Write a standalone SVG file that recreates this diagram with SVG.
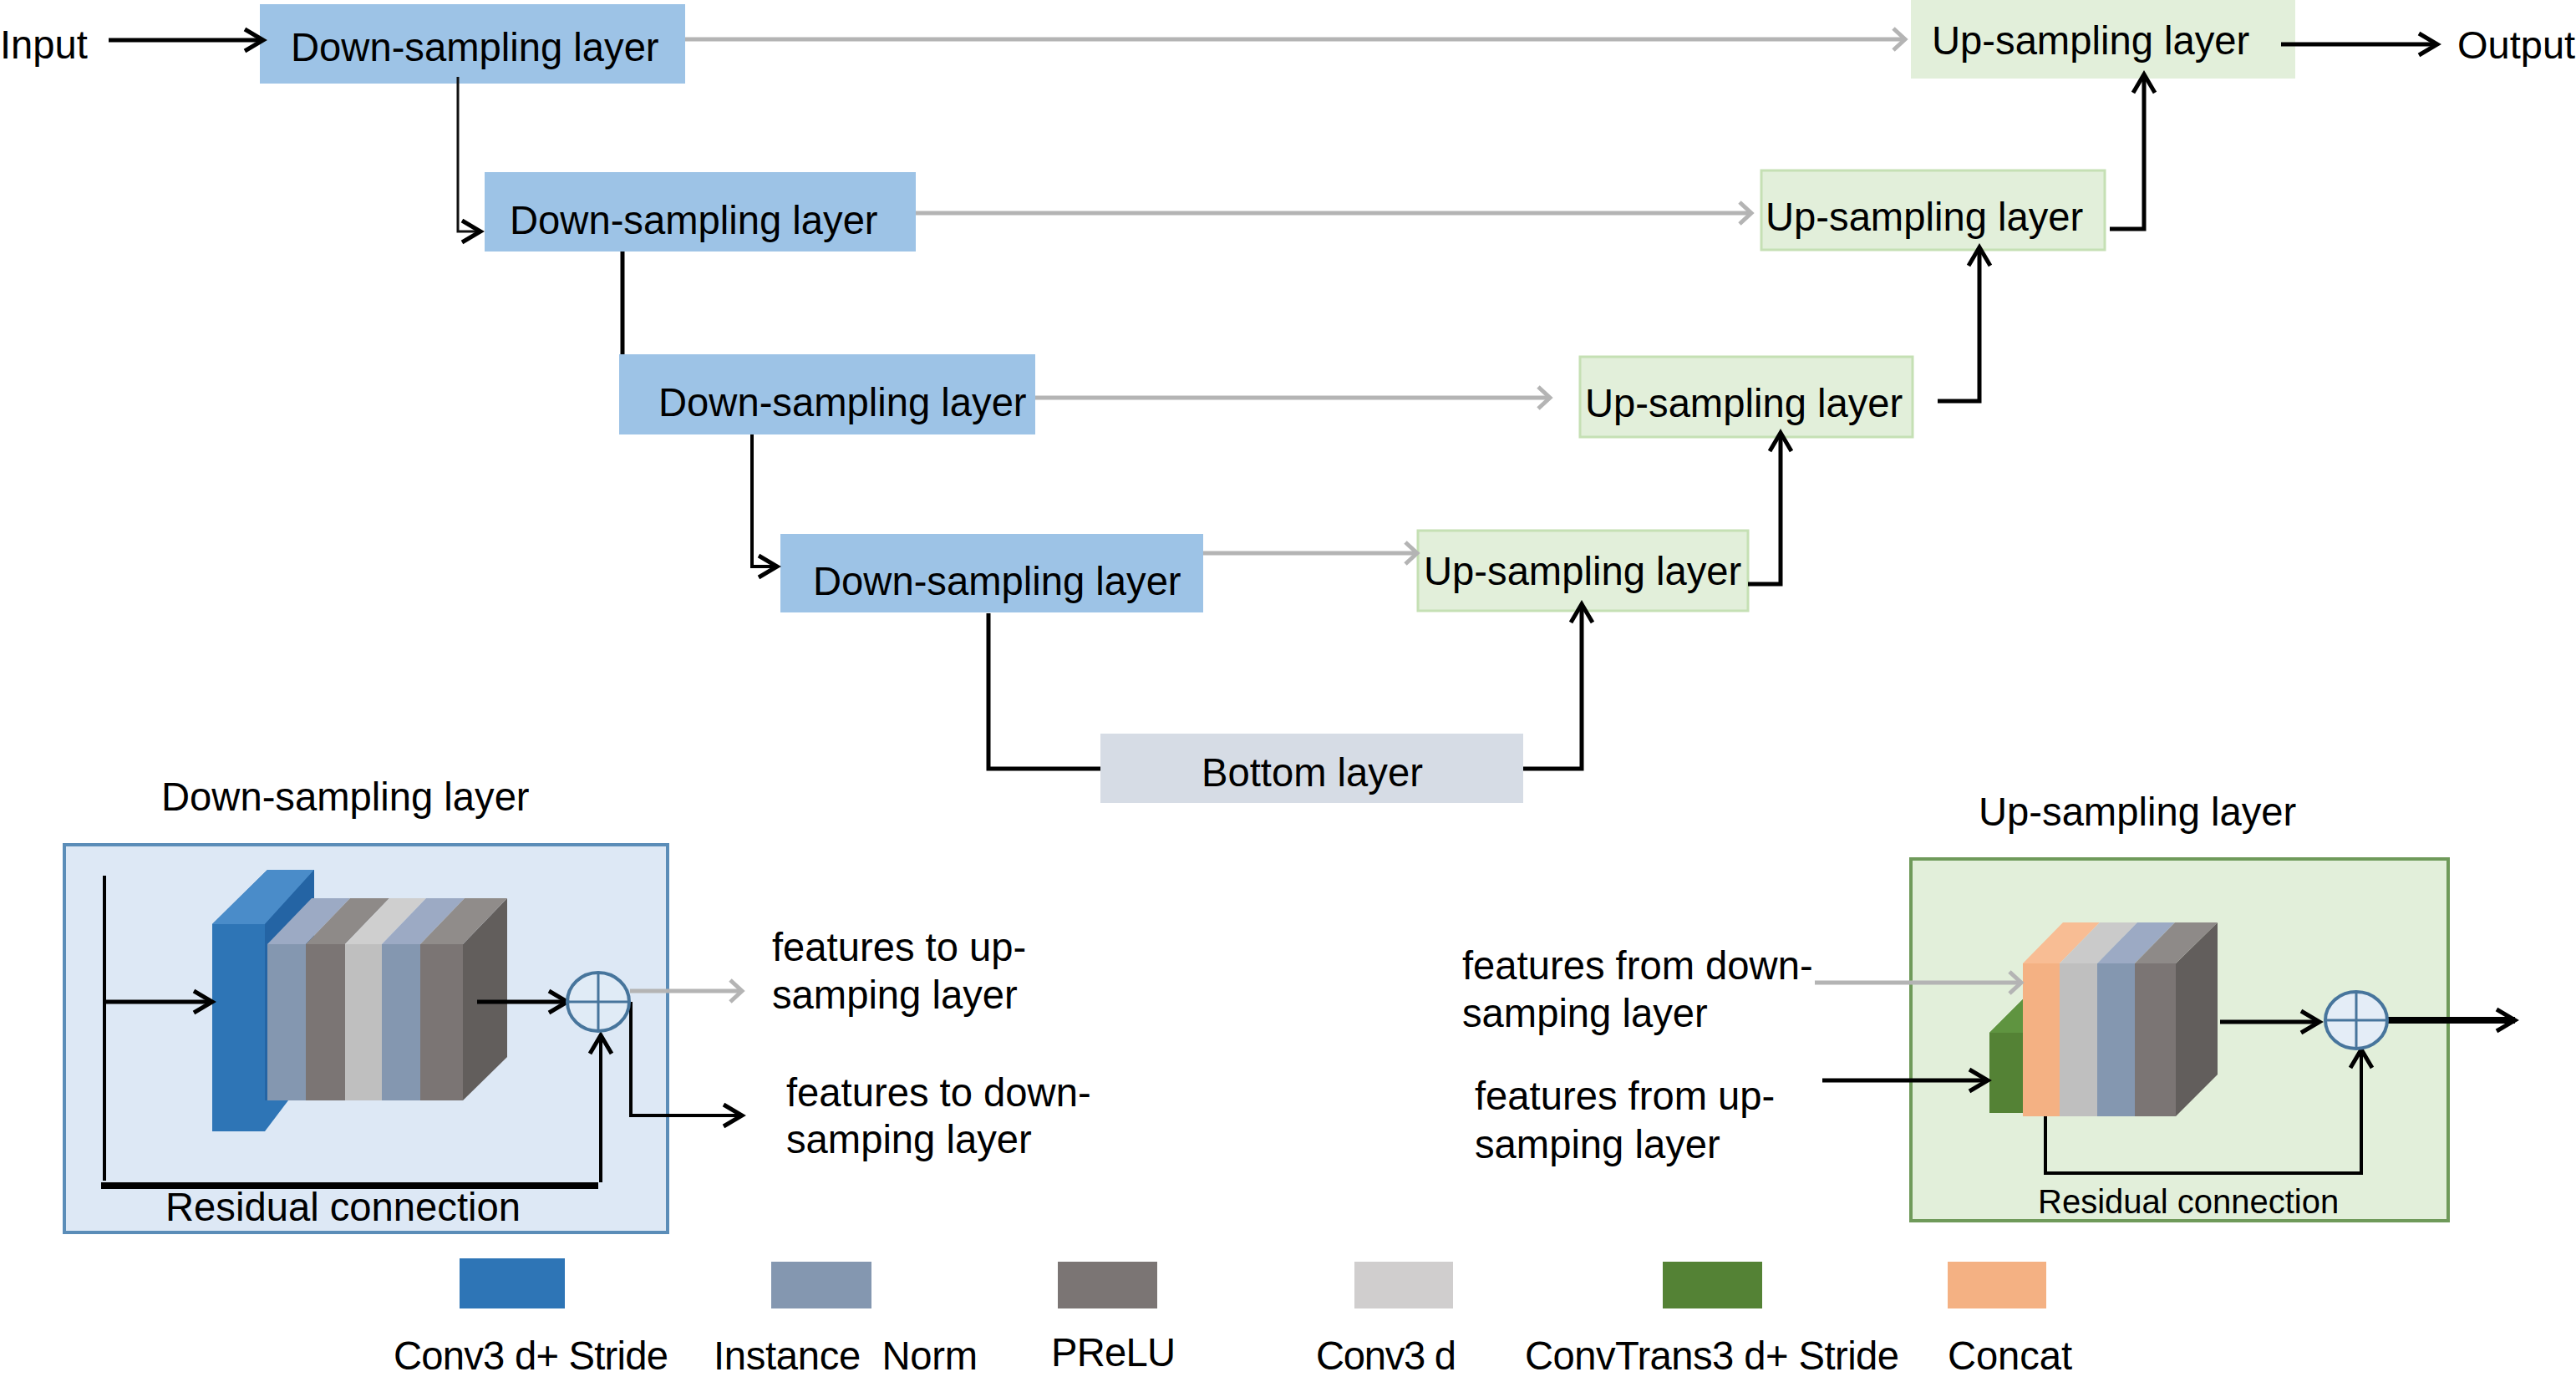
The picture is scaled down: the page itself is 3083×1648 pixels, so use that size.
<svg xmlns="http://www.w3.org/2000/svg" width="3083" height="1648" viewBox="0 0 3083 1648">
<style>
text{font-family:"Liberation Sans",Arial,sans-serif;font-size:47.2px;fill:#000}
.down{fill:#9dc3e6}.up{fill:#e2efda}.upb{fill:#e2efda;stroke:#c5e0b4;stroke-width:3}.bot{fill:#d6dce5}
.k,.k5,.g,.k7,.k8,.k3{fill:none}
.k{stroke:#000;stroke-width:4}.k3{stroke:#111;stroke-width:3}.k5{stroke:#000;stroke-width:5}.k7{stroke:#000;stroke-width:8}.k8{stroke:#000;stroke-width:8}
.g{stroke:#b4b4b4;stroke-width:5}
.ka{marker-end:url(#ah)}.ga{marker-end:url(#ag)}
.b1{fill:#8497b0}.b2{fill:#7b7574}.b3{fill:#bfbfbf}.s{fill:#625e5c}
</style>
<defs>
<marker id="ah" markerUnits="userSpaceOnUse" markerWidth="40" markerHeight="40" refX="26" refY="20" orient="auto"><path d="M4 7L26 20L4 33" fill="none" stroke="#000" stroke-width="5"/></marker>
<marker id="ag" markerUnits="userSpaceOnUse" markerWidth="40" markerHeight="40" refX="26" refY="20" orient="auto"><path d="M12 7L26 20L12 33" fill="none" stroke="#b4b4b4" stroke-width="5"/></marker>
</defs>

<g id="panel-down">
<rect x="77" y="1011" width="722" height="464" fill="#dde8f5" stroke="#5b8db8" stroke-width="4"/>
<path d="M254 1106L320 1041H376V1275L345 1317L317 1354H254Z" fill="#2e75b6"/>
<path d="M254 1106L320 1041H376L317 1106Z" fill="#4a8cc9"/>
<path d="M317 1106L376 1041V1275L345 1317H317Z" fill="#2464a4"/>
<path d="M254 1106H317V1354H254Z" fill="#2e75b6"/>
<path class="s" d="M554 1130L607 1075V1265L554 1317Z"/>
<path class="b1" d="M320 1130H366V1317H320Z"/><path class="b2" d="M366 1130H413V1317H366Z"/><path class="b3" d="M413 1130H457V1317H413Z"/><path class="b1" d="M457 1130H503V1317H457Z"/><path class="b2" d="M503 1130H554V1317H503Z"/>
<path d="M320 1130L373 1075H419L366 1130Z" fill="#9caac4"/><path d="M366 1130L419 1075H466L413 1130Z" fill="#8e8a88"/><path d="M413 1130L466 1075H510L457 1130Z" fill="#cfcfcf"/><path d="M457 1130L510 1075H556L503 1130Z" fill="#9caac4"/><path d="M503 1130L556 1075H607L554 1130Z" fill="#908c8a"/>
<text x="198" y="1461">Residual connection</text>
</g>
<g id="panel-up">
<rect x="2287" y="1028" width="643" height="433" fill="#e2efda" stroke="#6f9a5a" stroke-width="4"/>
<path d="M2381 1236L2421 1196V1332H2381Z" fill="#548235"/>
<path d="M2381 1236L2421 1196V1236Z" fill="#5f9440"/>
<path class="s" d="M2604 1153L2654 1104V1286L2604 1336Z"/>
<rect x="2421" y="1153" width="44" height="183" fill="#f4b183"/><rect class="b3" x="2465" y="1153" width="45" height="183"/><rect class="b1" x="2510" y="1153" width="45" height="183"/><rect class="b2" x="2555" y="1153" width="49" height="183"/>
<path d="M2421 1153L2469 1104H2513L2465 1153Z" fill="#f8bd94"/><path d="M2465 1153L2513 1104H2558L2510 1153Z" fill="#cacaca"/><path d="M2510 1153L2558 1104H2603L2555 1153Z" fill="#9caac4"/><path d="M2555 1153L2603 1104H2654L2604 1153Z" fill="#8e8a88"/>
<text x="2439" y="1452" style="font-size:40px">Residual connection</text>
</g>

<g id="d1"><rect class="down" x="311" y="5" width="509" height="95"/><text x="348" y="73">Down-sampling layer</text></g>
<g id="d2"><rect class="down" x="580" y="206" width="516" height="95"/><text x="610" y="280">Down-sampling layer</text></g>
<g id="d3"><rect class="down" x="741" y="424" width="498" height="96"/><text x="788" y="498">Down-sampling layer</text></g>
<g id="d4"><rect class="down" x="934" y="639" width="506" height="94"/><text x="973" y="712">Down-sampling layer</text></g>
<g id="u1"><rect class="up" x="2287" y="0" width="460" height="94"/><text x="2312" y="65">Up-sampling layer</text></g>
<g id="u2"><rect class="upb" x="2108" y="204" width="411" height="95"/><text x="2113" y="276">Up-sampling layer</text></g>
<g id="u3"><rect class="upb" x="1891" y="427" width="398" height="96"/><text x="1897" y="499">Up-sampling layer</text></g>
<g id="u4"><rect class="upb" x="1697" y="635" width="395" height="96"/><text x="1704" y="700">Up-sampling layer</text></g>
<g id="bottom"><rect class="bot" x="1317" y="878" width="506" height="83"/><text x="1438" y="941">Bottom layer</text></g>

<g id="connectors">
<path class="k5 ka" d="M130 48H315"/>
<path class="g ga" d="M820 47H2280"/>
<path class="k3 ka" d="M548 92V277H575"/>
<path class="g ga" d="M1096 255H2096"/>
<path class="k5" d="M745 301V424"/>
<path class="g ga" d="M1239 476H1855"/>
<path class="k ka" d="M900 520V678H930"/>
<path class="g ga" d="M1440 662H1696"/>
<path class="k5" d="M1183 734V920H1317"/>
<path class="k5 ka" d="M1823 920H1893V723"/>
<path class="k5 ka" d="M2092 699H2131V518"/>
<path class="k5 ka" d="M2319 480H2369V296"/>
<path class="k5 ka" d="M2525 274H2566V89"/>
<path class="k5 ka" d="M2730 53H2917"/>
<path class="k" d="M125 1048V1413"/>
<path class="k5 ka" d="M125 1199H254"/>
<path class="k8" d="M121 1419H716"/>
<path class="k ka" d="M719 1415V1239"/>
<path class="k5 ka" d="M571 1199H679"/>
<path class="g ga" d="M754 1186H888"/>
<path class="k ka" d="M755 1199V1335H888"/>
<path class="g ga" d="M2172 1176H2419"/>
<path class="k5 ka" d="M2181 1293H2379"/>
<path class="k5 ka" d="M2657 1223H2776"/>
<path class="k7 ka" d="M2855 1221H3010"/>
<path class="k ka" d="M2448 1336V1404H2826V1256"/>
</g>

<g id="sum-down"><ellipse cx="716" cy="1199" rx="37" ry="35" fill="#e4edf7" fill-opacity=".5" stroke="#47759c" stroke-width="4"/><path d="M716 1164V1234M679 1199H753" stroke="#47759c" stroke-width="3" fill="none"/></g>
<g id="sum-up"><ellipse cx="2820" cy="1221" rx="37" ry="34" fill="#e4edf7" stroke="#47759c" stroke-width="4"/><path d="M2820 1187V1255M2783 1221H2857" stroke="#47759c" stroke-width="3" fill="none"/></g>

<g id="labels">
<text x="0" y="70">Input</text>
<text x="2941" y="70" style="font-size:47px">Output</text>
<text x="193" y="970">Down-sampling layer</text>
<text x="2368" y="988">Up-sampling layer</text>
<text x="924" y="1150">features to up-</text>
<text x="924" y="1207">samping layer</text>
<text x="941" y="1324">features to down-</text>
<text x="941" y="1380">samping layer</text>
<text x="1750" y="1172">features from down-</text>
<text x="1750" y="1229">samping layer</text>
<text x="1765" y="1328">features from up-</text>
<text x="1765" y="1386">samping layer</text>
</g>

<g id="legend">
<rect x="550" y="1506" width="126" height="60" fill="#2e75b6"/>
<rect x="923" y="1510" width="120" height="56" fill="#8497b0"/>
<rect x="1266" y="1510" width="119" height="56" fill="#7b7574"/>
<rect x="1621" y="1510" width="118" height="56" fill="#d0cece"/>
<rect x="1990" y="1510" width="119" height="56" fill="#548235"/>
<rect x="2331" y="1510" width="118" height="56" fill="#f4b183"/>
<text x="471" y="1639" textLength="329">Conv3 d+ Stride</text>
<text x="854" y="1639" xml:space="preserve" textLength="316">Instance  Norm</text>
<text x="1258" y="1635" textLength="149">PReLU</text>
<text x="1575" y="1639" textLength="168">Conv3 d</text>
<text x="1825" y="1639" textLength="448">ConvTrans3 d+ Stride</text>
<text x="2331" y="1639" textLength="149">Concat</text>
</g>
</svg>
